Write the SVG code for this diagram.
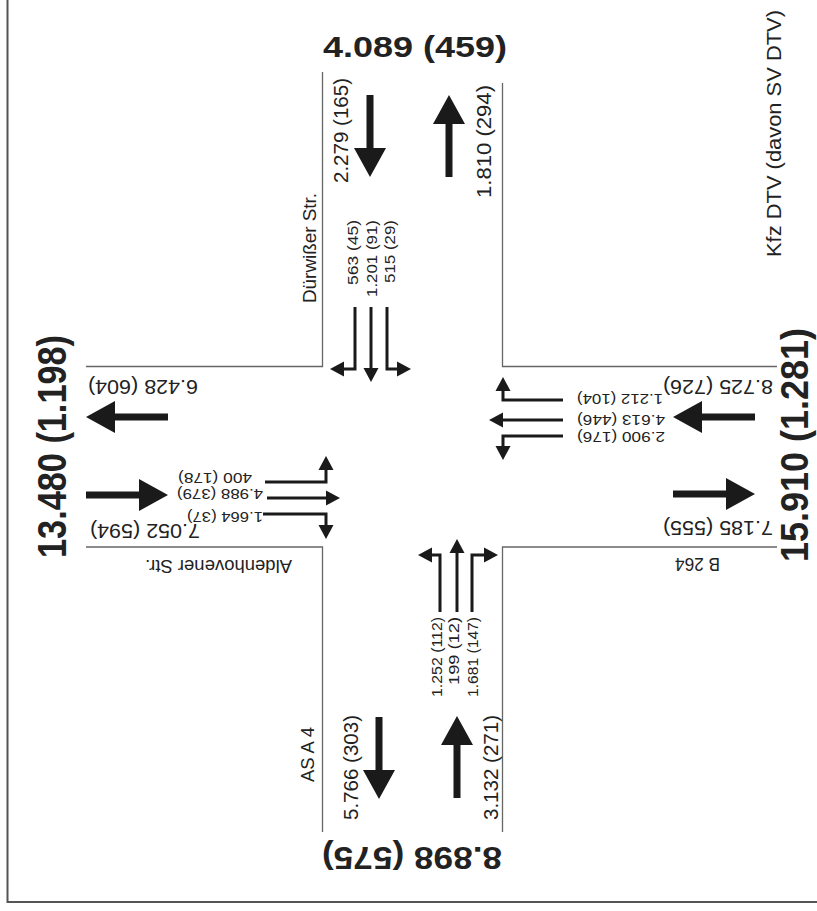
<svg xmlns="http://www.w3.org/2000/svg" width="817" height="911" viewBox="0 0 817 911">
<style>
text{font-family:"Liberation Sans",Arial,sans-serif;fill:#222;text-anchor:middle}
.big{font-weight:bold}
.m{font-size:20px}
.s{font-size:15px}
.road{fill:none;stroke:#666;stroke-width:1.3}
.border{fill:none;stroke:#555;stroke-width:2}
.lane{fill:none;stroke:#1a1a1a;stroke-width:3;marker-end:url(#head)}
.arr{fill:#1a1a1a}
</style>
<defs>
<marker id="head" markerUnits="userSpaceOnUse" markerWidth="16" markerHeight="16" refX="0" refY="7.5" orient="auto" overflow="visible">
<path d="M0,0 L14,7.5 L0,15 Z" fill="#1a1a1a"/>
</marker>
<path id="bigArrow" d="M0,-3.5 H53 V-16 L82,0 L53,16 V3.5 H0 Z"/>
</defs>
<rect width="817" height="911" fill="#fff"/>
<path class="border" d="M7.5,0 V902 H817"/>
<g id="roads">
<path class="road" d="M322.5,72 V366.5 H86"/>
<path class="road" d="M502.5,83 V366.5 H777"/>
<path class="road" d="M86,547 H322.5 V832"/>
<path class="road" d="M777,547 H502.5 V832"/>
</g>
<g id="legend">
<text class="m" transform="translate(774.5,133.5) rotate(-90)" y="6" textLength="247" lengthAdjust="spacingAndGlyphs">Kfz DTV (davon SV DTV)</text>
</g>
<g id="north">
<text class="big" x="415" y="57" style="font-size:30px" textLength="184" lengthAdjust="spacingAndGlyphs">4.089 (459)</text>
<use href="#bigArrow" class="arr" transform="translate(370,95) rotate(90)"/>
<use href="#bigArrow" class="arr" transform="translate(449,177) rotate(-90)"/>
<text class="m" transform="translate(341.5,130.5) rotate(-90)" y="6" textLength="105" lengthAdjust="spacingAndGlyphs">2.279 (165)</text>
<text class="m" transform="translate(485,141.5) rotate(-90)" y="6" textLength="113" lengthAdjust="spacingAndGlyphs">1.810 (294)</text>
<text class="m" transform="translate(310,248) rotate(-90)" y="5.7" style="font-size:19px" textLength="110" lengthAdjust="spacingAndGlyphs">Dürwißer Str.</text>
<text class="s" transform="translate(353.5,252.5) rotate(-90)" y="4.5" textLength="65" lengthAdjust="spacingAndGlyphs">563 (45)</text>
<text class="s" transform="translate(372,258.5) rotate(-90)" y="4.5" textLength="77" lengthAdjust="spacingAndGlyphs">1.201 (91)</text>
<text class="s" transform="translate(390,251.5) rotate(-90)" y="4.5" textLength="63" lengthAdjust="spacingAndGlyphs">515 (29)</text>
</g>
<g id="east">
<text class="big" transform="translate(797,445) rotate(-90)" y="11.4" style="font-size:38px" textLength="234" lengthAdjust="spacingAndGlyphs">15.910 (1.281)</text>
<use href="#bigArrow" class="arr" transform="translate(755,417) rotate(180)"/>
<use href="#bigArrow" class="arr" transform="translate(673,494)"/>
<text class="m" transform="translate(718,386) rotate(180)" y="6" textLength="110" lengthAdjust="spacingAndGlyphs">8.725 (726)</text>
<text class="m" transform="translate(718,527) rotate(180)" y="6" textLength="110" lengthAdjust="spacingAndGlyphs">7.185 (555)</text>
<text class="m" transform="translate(697.5,563.5) rotate(180)" y="6" style="font-size:18px" textLength="45" lengthAdjust="spacingAndGlyphs">B 264</text>
<text class="s" transform="translate(620,398.5) rotate(180)" y="4.5" textLength="86" lengthAdjust="spacingAndGlyphs">1.212 (104)</text>
<text class="s" transform="translate(621,419) rotate(180)" y="4.5" textLength="88" lengthAdjust="spacingAndGlyphs">4.613 (446)</text>
<text class="s" transform="translate(621,436) rotate(180)" y="4.5" textLength="88" lengthAdjust="spacingAndGlyphs">2.900 (176)</text>
</g>
<g id="south">
<text class="big" transform="translate(412,857) rotate(180)" y="9.6" style="font-size:32px" textLength="180" lengthAdjust="spacingAndGlyphs">8.898 (575)</text>
<use href="#bigArrow" class="arr" transform="translate(379,717) rotate(90)"/>
<use href="#bigArrow" class="arr" transform="translate(457,798) rotate(-90)"/>
<text class="m" transform="translate(351.5,767.5) rotate(-90)" y="6" textLength="105" lengthAdjust="spacingAndGlyphs">5.766 (303)</text>
<text class="m" transform="translate(491.5,767.5) rotate(-90)" y="6" textLength="105" lengthAdjust="spacingAndGlyphs">3.132 (271)</text>
<text class="m" transform="translate(308.5,754.5) rotate(-90)" y="5.4" style="font-size:18px" textLength="55" lengthAdjust="spacingAndGlyphs">AS A 4</text>
<text class="s" transform="translate(437.5,657) rotate(-90)" y="4.5" textLength="80" lengthAdjust="spacingAndGlyphs">1.252 (112)</text>
<text class="s" transform="translate(454,651) rotate(-90)" y="4.5" textLength="68" lengthAdjust="spacingAndGlyphs">199 (12)</text>
<text class="s" transform="translate(473.5,657) rotate(-90)" y="4.5" textLength="80" lengthAdjust="spacingAndGlyphs">1.681 (147)</text>
</g>
<g id="west">
<text class="big" transform="translate(53.5,446.5) rotate(-90)" y="12" style="font-size:40px" textLength="223" lengthAdjust="spacingAndGlyphs">13.480 (1.198)</text>
<use href="#bigArrow" class="arr" transform="translate(168,417) rotate(180)"/>
<use href="#bigArrow" class="arr" transform="translate(86,495)"/>
<text class="m" transform="translate(143,386) rotate(180)" y="6" textLength="110" lengthAdjust="spacingAndGlyphs">6.428 (604)</text>
<text class="m" transform="translate(145,530) rotate(180)" y="6" textLength="110" lengthAdjust="spacingAndGlyphs">7.052 (594)</text>
<text class="m" transform="translate(218.5,565.5) rotate(180)" y="5.4" style="font-size:18px" textLength="147" lengthAdjust="spacingAndGlyphs">Aldenhovener Str.</text>
<text class="s" transform="translate(215,477) rotate(180)" y="4.5" textLength="74" lengthAdjust="spacingAndGlyphs">400 (178)</text>
<text class="s" transform="translate(220,493) rotate(180)" y="4.5" textLength="86" lengthAdjust="spacingAndGlyphs">4.988 (379)</text>
<text class="s" transform="translate(225,516) rotate(180)" y="4.5" textLength="76" lengthAdjust="spacingAndGlyphs">1.664 (37)</text>
</g>
<g id="connectors">
<path class="lane" d="M355,307 V369 H344"/>
<path class="lane" d="M371,307 V368"/>
<path class="lane" d="M387,307 V369 H397"/>
<path class="lane" d="M563,400 H503 V391"/>
<path class="lane" d="M563,420 H503"/>
<path class="lane" d="M563,436 H503 V446"/>
<path class="lane" d="M265,482 H326 V470"/>
<path class="lane" d="M267,498 H326"/>
<path class="lane" d="M263,514 H326 V525"/>
<path class="lane" d="M440,612 V555 H432"/>
<path class="lane" d="M457,612 V553"/>
<path class="lane" d="M472,612 V555 H484"/>
</g>
</svg>
